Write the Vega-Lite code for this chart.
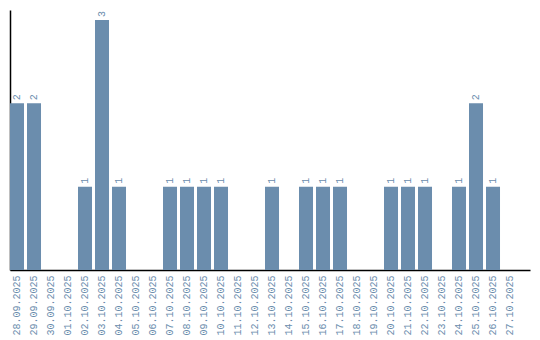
{
  "$schema": "https://vega.github.io/schema/vega-lite/v6.json",
  "width": 520,
  "height": 260,
  "autosize": {"type": "none"},
  "padding": {"left": 10, "top": 10, "right": 10, "bottom": 70},
  "background": "white",
  "config": {"view": {"stroke": null}},
  "data": {
    "values": [
      {"date": "28.09.2025", "count": 2},
      {"date": "29.09.2025", "count": 2},
      {"date": "30.09.2025", "count": 0},
      {"date": "01.10.2025", "count": 0},
      {"date": "02.10.2025", "count": 1},
      {"date": "03.10.2025", "count": 3},
      {"date": "04.10.2025", "count": 1},
      {"date": "05.10.2025", "count": 0},
      {"date": "06.10.2025", "count": 0},
      {"date": "07.10.2025", "count": 1},
      {"date": "08.10.2025", "count": 1},
      {"date": "09.10.2025", "count": 1},
      {"date": "10.10.2025", "count": 1},
      {"date": "11.10.2025", "count": 0},
      {"date": "12.10.2025", "count": 0},
      {"date": "13.10.2025", "count": 1},
      {"date": "14.10.2025", "count": 0},
      {"date": "15.10.2025", "count": 1},
      {"date": "16.10.2025", "count": 1},
      {"date": "17.10.2025", "count": 1},
      {"date": "18.10.2025", "count": 0},
      {"date": "19.10.2025", "count": 0},
      {"date": "20.10.2025", "count": 1},
      {"date": "21.10.2025", "count": 1},
      {"date": "22.10.2025", "count": 1},
      {"date": "23.10.2025", "count": 0},
      {"date": "24.10.2025", "count": 1},
      {"date": "25.10.2025", "count": 2},
      {"date": "26.10.2025", "count": 1},
      {"date": "27.10.2025", "count": 0}
    ]
  },
  "encoding": {
    "x": {
      "field": "date",
      "type": "nominal",
      "sort": null,
      "scale": {"paddingInner": 0.176, "paddingOuter": 0.382, "align": 0},
      "axis": {
        "title": null,
        "ticks": false,
        "labelAngle": 270,
        "labelAlign": "right",
        "labelBaseline": "middle",
        "labelPadding": 5,
        "labelFont": "Liberation Mono",
        "labelFontSize": 10,
        "labelColor": "#6b8dad",
        "domainColor": "#000000",
        "domainWidth": 1.5
      }
    },
    "y": {
      "field": "count",
      "type": "quantitative",
      "scale": {"domain": [0, 3.12], "nice": false},
      "axis": {
        "title": null,
        "ticks": false,
        "labels": false,
        "grid": false,
        "domainColor": "#000000",
        "domainWidth": 1.5
      }
    }
  },
  "layer": [
    {"mark": {"type": "bar", "color": "#6b8dad"}},
    {
      "transform": [{"filter": "datum.count > 0"}],
      "mark": {
        "type": "text",
        "angle": 270,
        "align": "left",
        "baseline": "middle",
        "dx": 3,
        "font": "Liberation Mono",
        "fontSize": 10,
        "color": "#6b8dad"
      },
      "encoding": {"text": {"field": "count", "type": "quantitative"}}
    }
  ]
}
